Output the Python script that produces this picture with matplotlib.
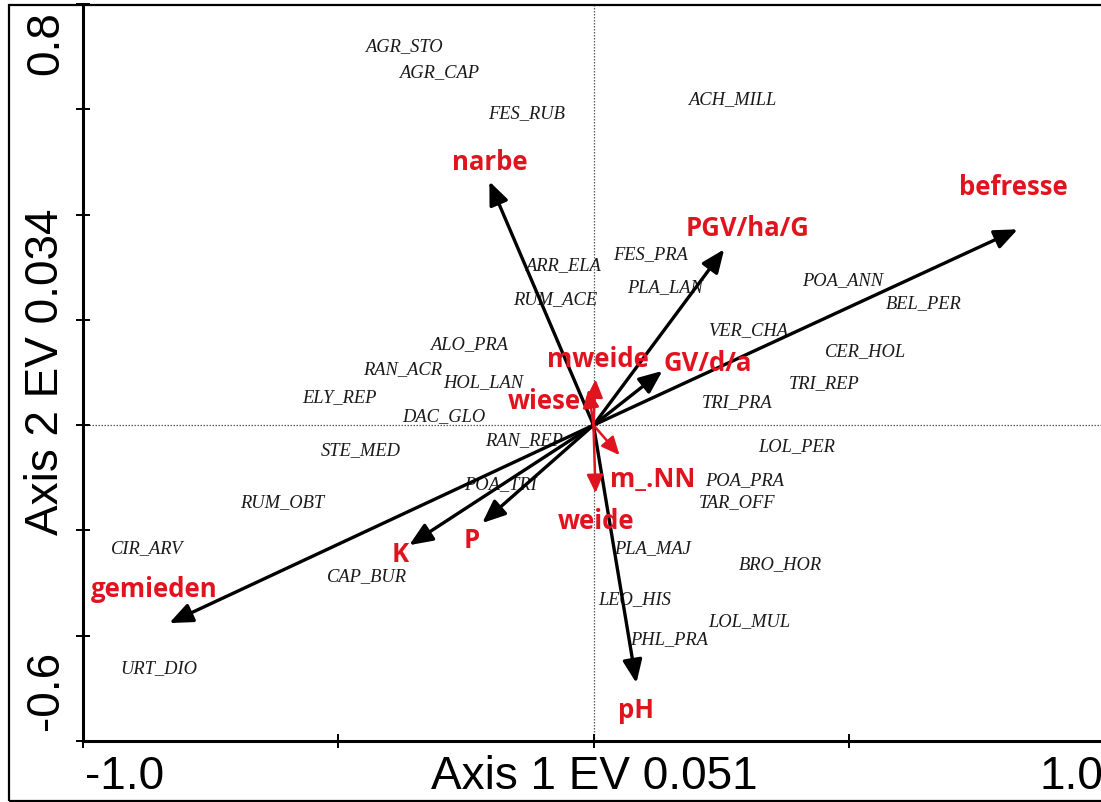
import matplotlib
matplotlib.use("Agg")
import matplotlib.pyplot as plt
from matplotlib.patches import FancyArrowPatch, Rectangle

# ---- data -------------------------------------------------------------
species = ["AGR_STO", "AGR_CAP", "FES_RUB", "ACH_MILL", "ARR_ELA", "FES_PRA",
           "PLA_LAN", "RUM_ACE", "POA_ANN", "BEL_PER", "VER_CHA", "CER_HOL",
           "TRI_REP", "TRI_PRA", "ALO_PRA", "RAN_ACR", "HOL_LAN", "ELY_REP",
           "DAC_GLO", "RAN_REP", "STE_MED", "LOL_PER", "POA_PRA", "TAR_OFF",
           "POA_TRI", "RUM_OBT", "PLA_MAJ", "CIR_ARV", "CAP_BUR", "BRO_HOR",
           "LEO_HIS", "LOL_MUL", "PHL_PRA", "URT_DIO"]
species_ax1 = [-0.371, -0.302, -0.131, 0.271, -0.059, 0.112,
               0.141, -0.076, 0.488, 0.647, 0.302, 0.533,
               0.451, 0.282, -0.243, -0.373, -0.216, -0.498,
               -0.294, -0.137, -0.455, 0.398, 0.296, 0.282,
               -0.182, -0.610, 0.116, -0.875, -0.443, 0.367,
               0.080, 0.306, 0.147, -0.851]
species_ax2 = [0.720, 0.672, 0.593, 0.621, 0.304, 0.325,
               0.264, 0.241, 0.277, 0.232, 0.182, 0.141,
               0.080, 0.044, 0.154, 0.108, 0.082, 0.055,
               0.019, -0.027, -0.046, -0.038, -0.104, -0.146,
               -0.112, -0.146, -0.232, -0.232, -0.285, -0.264,
               -0.329, -0.372, -0.405, -0.461]

env_major = ["befresse", "narbe", "PGV/ha/G", "GV/d/a", "gemieden", "K", "P", "pH"]
env_major_ax1 = [0.831, -0.204, 0.256, 0.135, -0.831, -0.361, -0.218, 0.084]
env_major_ax2 = [0.372, 0.463, 0.334, 0.103, -0.376, -0.228, -0.186, -0.490]

env_minor = ["mweide", "wiese", "m_.NN", "weide"]
env_minor_ax1 = [0.004, -0.010, 0.051, 0.004]
env_minor_ax2 = [0.087, 0.068, -0.057, -0.129]

x_tick_text = ["-1.0", "1.0"]
y_tick_text = ["-0.6", "0.8"]
x_title = "Axis 1 EV 0.051"
y_title = "Axis 2 EV 0.034"

# ---- label offsets (pixels, relative to arrow tip) --------------------
major_off = {"befresse": (-4, 43), "narbe": (0, 20), "PGV/ha/G": (23, 22),
             "GV/d/a": (45, 8), "gemieden": (-15, 35), "K": (-9, -8),
             "P": (-10, -16), "pH": (0, -26)}
minor_off = {"mweide": (2, 21), "wiese": (-44, -11), "m_.NN": (33, -23),
             "weide": (1, -27)}

W, H = 1101, 803
RED = "#e0141e"
fig = plt.figure(figsize=(W / 100, H / 100), dpi=100)
left_px, right_px, top_px, bot_px = 83, 1104, 5, 742
ax = fig.add_axes([left_px / W, 1 - bot_px / H, (right_px - left_px) / W,
                   (bot_px - top_px) / H])
ax.set_xlim(-1.0, 1.0)
ax.set_ylim(-0.6, 0.8)
for s in ("top", "right"):
    ax.spines[s].set_visible(False)
for s in ("left", "bottom"):
    ax.spines[s].set_linewidth(2.2)
ax.set_xticks([-1.0, -0.5, 0.0, 0.5, 1.0])
ax.set_yticks([-0.6, -0.4, -0.2, 0.0, 0.2, 0.4, 0.6, 0.8])
ax.tick_params(direction="inout", length=10, width=1.4,
               labelbottom=False, labelleft=False)

ax.axhline(0, color="0.35", lw=0.9, ls=(0, (1.2, 1.2)), zorder=1)
ax.axvline(0, color="0.35", lw=0.9, ls=(0, (1.2, 1.2)), zorder=1)

# species labels
for name, x, y in zip(species, species_ax1, species_ax2):
    ax.text(x, y, name, ha="center", va="center", fontsize=13.3,
            family="Liberation Serif", style="italic", color="#1a1a1a",
            zorder=2)

# black arrows
for name, x, y in zip(env_major, env_major_ax1, env_major_ax2):
    arr = FancyArrowPatch((0, 0), (x, y), arrowstyle="-|>,head_length=1.0,head_width=0.42",
                          mutation_scale=14, color="black", lw=2.4,
                          shrinkA=0, shrinkB=0, zorder=3)
    ax.add_patch(arr)
    dx, dy = major_off[name]
    ax.annotate(name, (x, y), xytext=(dx * 0.72, dy * 0.72),
                textcoords="offset points", ha="center", va="center",
                fontsize=18.5, fontweight="bold", family="Open Sans",
                color=RED, zorder=5)

# red arrows
for name, x, y in zip(env_minor, env_minor_ax1, env_minor_ax2):
    arr = FancyArrowPatch((0, 0), (x, y), arrowstyle="-|>,head_length=1.0,head_width=0.45",
                          mutation_scale=11, color=RED, lw=1.8,
                          shrinkA=0, shrinkB=0, zorder=4)
    ax.add_patch(arr)
    dx, dy = minor_off[name]
    ax.annotate(name, (x, y), xytext=(dx * 0.72, dy * 0.72),
                textcoords="offset points", ha="center", va="center",
                fontsize=18.5, fontweight="bold", family="Open Sans",
                color=RED, zorder=5)

# axis texts
tf = dict(family="Liberation Sans", fontsize=33, color="black")
fig.text(125 / W, 1 - 777 / H, x_tick_text[0], ha="center", va="center", **tf)
fig.text(594 / W, 1 - 777 / H, x_title, ha="center", va="center", **tf)
fig.text(1071 / W, 1 - 777 / H, x_tick_text[1], ha="center", va="center", **tf)
fig.text(46 / W, 1 - 690 / H, y_tick_text[0], ha="center", va="center", rotation=90, **tf)
fig.text(46 / W, 1 - 372 / H, y_title, ha="center", va="center", rotation=90, **tf)
fig.text(46 / W, 1 - 43 / H, y_tick_text[1], ha="center", va="center", rotation=90, **tf)

# outer frame
fig.add_artist(Rectangle((9 / W, 1 - 802 / H), 1.1, (802 - 6) / H,
                         transform=fig.transFigure, fill=False,
                         lw=1.6, edgecolor="black"))

fig.savefig("out.png", dpi=100)
